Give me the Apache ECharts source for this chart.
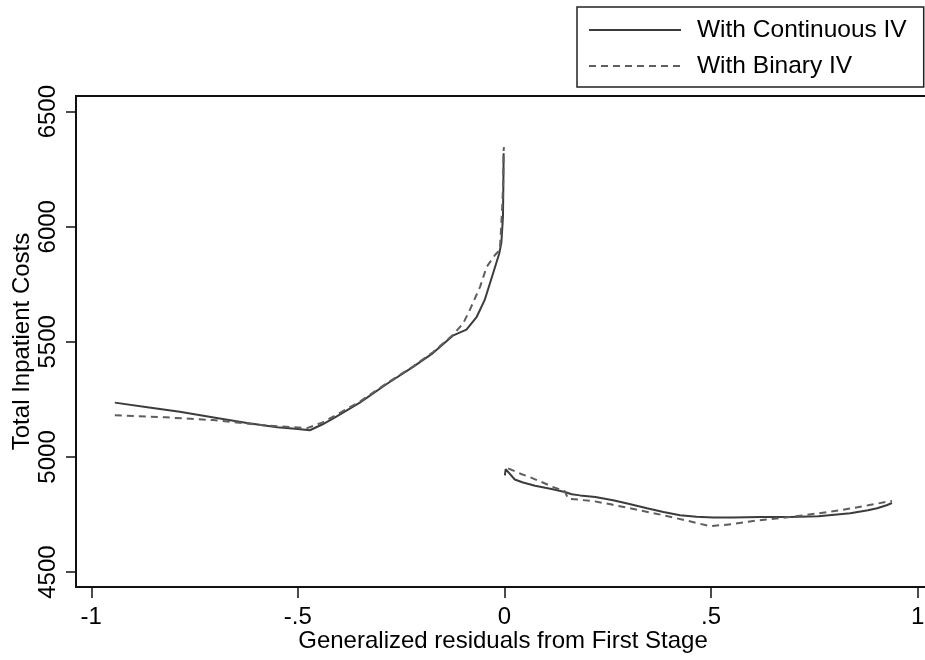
<!DOCTYPE html>
<html>
<head>
<meta charset="utf-8">
<title>Total Inpatient Costs by generalized residuals</title>
<script src="https://cdn.jsdelivr.net/npm/echarts@6/dist/echarts.min.js"></script>
<style>
  html, body { margin: 0; padding: 0; background: #fff; }
  #chart { width: 925px; height: 660px; }
</style>
</head>
<body>
<div id="chart"></div>
<script>
// Fitted cost curves, [residual, cost], one array per branch (negative / positive residuals)
const continuousLeft = [
  [-0.943, 5236], [-0.860, 5215], [-0.786, 5196], [-0.700, 5170], [-0.623, 5147],
  [-0.550, 5129], [-0.500, 5121], [-0.471, 5116], [-0.440, 5142], [-0.410, 5172],
  [-0.350, 5236], [-0.285, 5317], [-0.222, 5390], [-0.173, 5451], [-0.125, 5527],
  [-0.092, 5553], [-0.067, 5609], [-0.048, 5681], [-0.028, 5795], [-0.0126, 5884],
  [-0.0075, 5930], [-0.0036, 6043], [-0.0025, 6200], [-0.002, 6319]
];
const continuousRight = [
  [0.001, 4920], [0.003, 4947], [0.025, 4902], [0.045, 4889], [0.074, 4875],
  [0.117, 4860], [0.146, 4848], [0.163, 4838], [0.183, 4833], [0.220, 4826],
  [0.263, 4812], [0.300, 4797], [0.345, 4777], [0.385, 4761], [0.425, 4747],
  [0.465, 4740], [0.505, 4737], [0.553, 4737], [0.620, 4739], [0.691, 4739],
  [0.760, 4742], [0.837, 4755], [0.880, 4768], [0.902, 4777], [0.925, 4790],
  [0.938, 4800]
];
const binaryLeft = [
  [-0.943, 5181], [-0.820, 5172], [-0.706, 5160], [-0.585, 5138], [-0.520, 5130],
  [-0.478, 5125], [-0.440, 5150], [-0.410, 5180], [-0.350, 5240], [-0.285, 5320],
  [-0.222, 5392], [-0.173, 5455], [-0.125, 5530], [-0.100, 5580], [-0.084, 5638],
  [-0.059, 5739], [-0.043, 5826], [-0.023, 5877], [-0.011, 5899], [-0.008, 6000],
  [-0.005, 6100], [-0.003, 6200], [-0.002, 6333], [-0.001, 6346]
];
const binaryRight = [
  [0.009, 4950], [0.042, 4925], [0.062, 4912], [0.090, 4891], [0.117, 4870],
  [0.146, 4851], [0.150, 4835], [0.154, 4819], [0.219, 4807], [0.260, 4793],
  [0.304, 4777], [0.384, 4747], [0.440, 4724], [0.498, 4699], [0.550, 4708],
  [0.594, 4720], [0.691, 4739], [0.760, 4755], [0.812, 4768], [0.880, 4790],
  [0.938, 4809]
];

const seriesNames = ['With Continuous IV', 'With Binary IV'];
const xTicks = [-1, -0.5, 0, 0.5, 1];
const yTicks = [4500, 5000, 5500, 6000, 6500];
const xTitle = 'Generalized residuals from First Stage';
const yTitle = 'Total Inpatient Costs';

const FONT = '"Liberation Sans", Arial, sans-serif';

// Stata-style tick text: drop the leading zero (".5", "-.5")
function stataNumber(v) {
  if (v === 0) return '0';
  return String(v).replace(/^(-?)0\./, '$1.');
}

const solidStyle = { color: '#3c3c3c', width: 2, type: 'solid' };
const dashStyle = { color: '#5e5e5e', width: 2, type: [7, 5] };

function curve(name, data, style) {
  return {
    name: name,
    type: 'line',
    data: data,
    symbol: 'none',
    showSymbol: false,
    smooth: false,
    animation: false,
    lineStyle: style,
    itemStyle: { color: style.color },
    emphasis: { disabled: true }
  };
}

const chart = echarts.init(document.getElementById('chart'), null, { renderer: 'canvas' });

chart.setOption({
  backgroundColor: '#fff',
  animation: false,
  textStyle: { fontFamily: FONT },
  grid: {
    left: 76, top: 96, right: -5, bottom: 73,
    outerBoundsMode: 'none',
    containLabel: false,
    show: true,
    borderColor: '#111',
    borderWidth: 2,
    backgroundColor: 'transparent'
  },
  legend: {
    orient: 'vertical',
    left: 577,
    top: 7,
    data: seriesNames,
    itemWidth: 92,
    itemHeight: 14,
    itemGap: 10,
    padding: [10, 17, 8, 11],
    borderColor: '#222',
    borderWidth: 1.5,
    selectedMode: false,
    // line sample only, no marker in the key
    itemStyle: { opacity: 0 },
    textStyle: {
      fontFamily: FONT,
      fontSize: 24.5,
      color: '#000',
      lineHeight: 26,
      padding: [0, 0, 0, 11]
    }
  },
  xAxis: {
    type: 'value',
    min: -1.037,
    max: 1.030,
    name: xTitle,
    nameLocation: 'middle',
    nameGap: 42,
    nameMoveOverlap: false,
    nameTextStyle: { fontFamily: FONT, fontSize: 24, color: '#000' },
    axisLine: { show: false, onZero: false },
    axisTick: {
      show: true,
      length: 11,
      customValues: xTicks,
      lineStyle: { color: '#111', width: 1.5 }
    },
    axisLabel: {
      customValues: xTicks,
      formatter: stataNumber,
      margin: 18,
      fontFamily: FONT,
      fontSize: 24,
      color: '#000'
    },
    splitLine: { show: false }
  },
  yAxis: {
    type: 'value',
    min: 4435,
    max: 6568,
    name: yTitle,
    nameLocation: 'middle',
    nameGap: 42,
    nameRotate: 90,
    nameMoveOverlap: false,
    nameTextStyle: { fontFamily: FONT, fontSize: 24, color: '#000' },
    axisLine: { show: false, onZero: false },
    axisTick: {
      show: true,
      length: 10,
      customValues: yTicks,
      lineStyle: { color: '#111', width: 1.5 }
    },
    axisLabel: {
      customValues: yTicks,
      formatter: (v) => String(v),
      rotate: 90,
      margin: 16,
      fontFamily: FONT,
      fontSize: 24,
      color: '#000'
    },
    splitLine: { show: false }
  },
  series: [
    curve(seriesNames[0], continuousLeft, solidStyle),
    curve(seriesNames[0], continuousRight, solidStyle),
    curve(seriesNames[1], binaryLeft, dashStyle),
    curve(seriesNames[1], binaryRight, dashStyle)
  ]
});
</script>
</body>
</html>
